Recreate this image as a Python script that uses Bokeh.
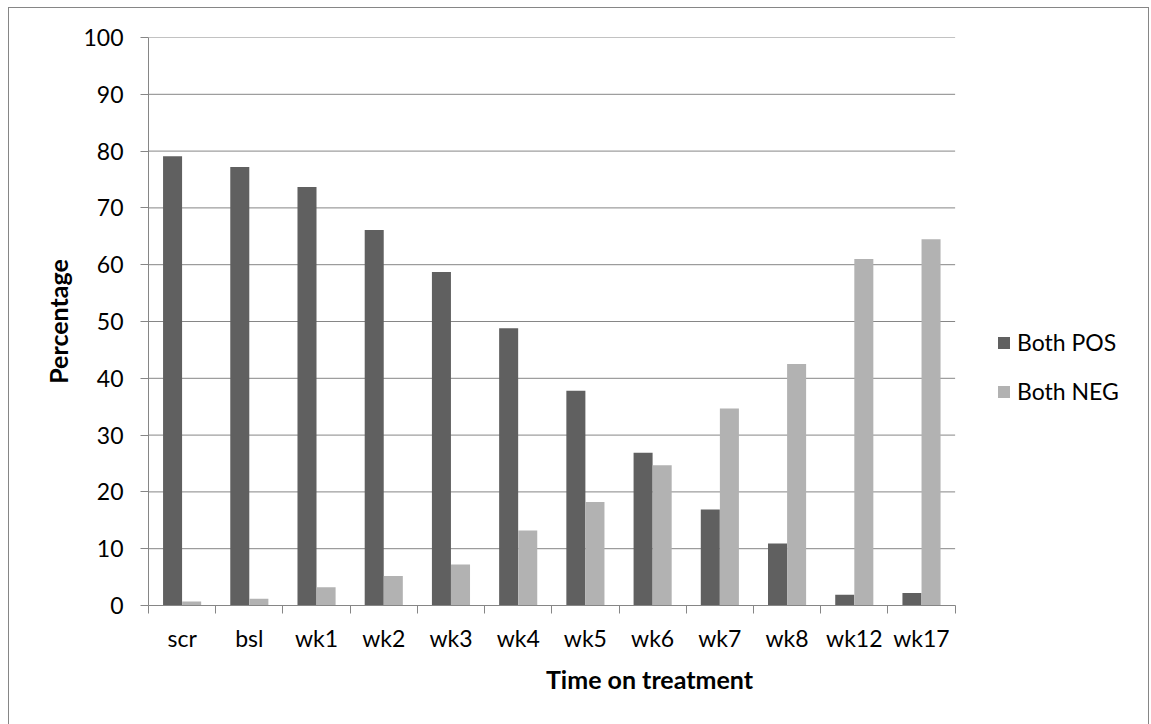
from bokeh.plotting import figure
from bokeh.models import ColumnDataSource, Range1d, FixedTicker, Legend, LegendItem
from bokeh.transform import dodge
from bokeh.embed import file_html
from bokeh.resources import INLINE

categories = ["scr", "bsl", "wk1", "wk2", "wk3", "wk4", "wk5", "wk6", "wk7", "wk8", "wk12", "wk17"]
both_pos = [79.1, 77.2, 73.7, 66.1, 58.7, 48.8, 37.8, 26.9, 16.9, 10.9, 1.9, 2.2]
both_neg = [0.7, 1.2, 3.2, 5.2, 7.2, 13.2, 18.2, 24.7, 34.7, 42.5, 61.0, 64.5]
y_ticks = list(range(0, 101, 10))
series_names = ["Both POS", "Both NEG"]
series_colors = ["#606060", "#b2b2b2"]

FONT = "Lato"
GRAY = "#868686"

n = len(categories)
# frame spans 1000 px; the category axis occupies the first 805 px of it,
# the rest is the legend area (as in the original spreadsheet chart)
FRAME_W = 1000
AXIS_W = 805
x_end = n * FRAME_W / AXIS_W

x_centers = [i + 0.5 for i in range(n)]
source = ColumnDataSource(data=dict(x=x_centers, cat=categories, pos=both_pos, neg=both_neg))
grid_src = ColumnDataSource(data=dict(x0=[0] * len(y_ticks), x1=[n] * len(y_ticks), y=y_ticks))

p = figure(width=1141, height=717, output_backend="svg", toolbar_location=None,
           x_range=Range1d(0, x_end), y_range=Range1d(0, 100),
           min_border_left=139, min_border_top=29, min_border_right=0, min_border_bottom=120)
p.styles = {"border-left": "1px solid " + GRAY, "border-top": "1px solid " + GRAY,
            "border-right": "1px solid " + GRAY, "margin-left": "8px", "margin-top": "7px"}
p.outline_line_color = None
p.background_fill_color = "white"
p.border_fill_color = "white"

# horizontal gridlines limited to the category area
p.segment(x0="x0", x1="x1", y0="y", y1="y", source=grid_src, line_color=GRAY, line_width=1)

bw = 0.283
r_pos = p.vbar(x=dodge("x", -0.142, range=p.x_range), top="pos", width=bw, source=source,
               fill_color=series_colors[0], line_color=None)
r_neg = p.vbar(x=dodge("x", 0.142, range=p.x_range), top="neg", width=bw, source=source,
               fill_color=series_colors[1], line_color=None)

# axes
xa = p.xaxis[0]
xa.bounds = (0, n)
xa.ticker = FixedTicker(ticks=x_centers, minor_ticks=list(range(n + 1)))
xa.major_label_overrides = {x: c for x, c in zip(x_centers, categories)}
xa.major_tick_out = 0
xa.major_tick_in = 0
xa.minor_tick_out = 8
xa.minor_tick_in = 0
xa.minor_tick_line_color = GRAY
xa.axis_line_color = GRAY
xa.major_label_text_font = FONT
xa.major_label_text_font_size = "23px"
xa.major_label_text_color = "black"
xa.major_label_standoff = 10
xa.axis_label = "Time on treatment"
xa.axis_label_text_font = FONT
xa.axis_label_text_font_size = "25px"
xa.axis_label_text_font_style = "bold"
xa.axis_label_text_color = "black"
xa.axis_label_standoff = 9

ya = p.yaxis[0]
ya.ticker = FixedTicker(ticks=y_ticks, minor_ticks=[])
ya.major_tick_out = 8
ya.major_tick_in = 0
ya.major_tick_line_color = GRAY
ya.axis_line_color = GRAY
ya.major_label_text_font = FONT
ya.major_label_text_font_size = "23px"
ya.major_label_text_color = "black"
ya.major_label_standoff = 17
ya.axis_label = "Percentage"
ya.axis_label_text_font = FONT
ya.axis_label_text_font_size = "25px"
ya.axis_label_text_font_style = "bold"
ya.axis_label_text_color = "black"
ya.axis_label_standoff = 7

p.xgrid.visible = False
p.ygrid.visible = False

legend = Legend(items=[LegendItem(label=series_names[0], renderers=[r_pos]),
                       LegendItem(label=series_names[1], renderers=[r_neg])],
                location=(848, 200), orientation="vertical")
legend.padding = 0
legend.margin = 0
legend.border_line_color = None
legend.background_fill_alpha = 0
legend.glyph_width = 15
legend.glyph_height = 15
legend.label_standoff = 6
legend.spacing = 21
legend.label_text_font = FONT
legend.label_text_font_size = "23px"
legend.label_text_color = "black"
p.add_layout(legend, "center")

open("out.html", "w").write(file_html(p, INLINE))
